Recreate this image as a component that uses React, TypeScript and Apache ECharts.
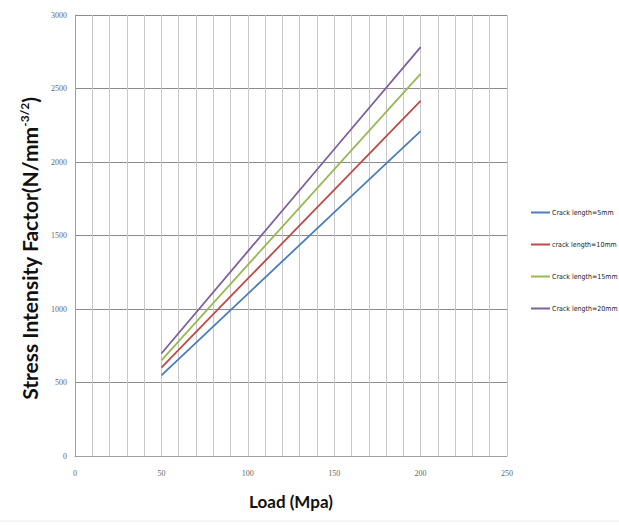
import React, { useEffect, useRef } from "react";
import * as echarts from "echarts";

const loads = [50, 100, 150, 200];
const seriesNames = [
  "Crack length=5mm",
  "crack length=10mm",
  "Crack length=15mm",
  "Crack length=20mm",
];
const crack5 = [548, 1103, 1657, 2210];
const crack10 = [602, 1206, 1810, 2415];
const crack15 = [650, 1300, 1950, 2600];
const crack20 = [697, 1392, 2087, 2782];
const colors = ["#4A7EBB", "#BE4B48", "#98B954", "#7D60A0"];
const xTicks = [0, 50, 100, 150, 200, 250];
const yTicks = [0, 500, 1000, 1500, 2000, 2500, 3000];

export default function App() {
  const ref = useRef<HTMLDivElement>(null);
  useEffect(() => {
    if (!ref.current) return;
    const chart = echarts.init(ref.current, null, { renderer: "svg" });
    const all = [crack5, crack10, crack15, crack20];
    chart.setOption({
      animation: false,
      backgroundColor: "#ffffff",
      grid: { left: 75, right: 112, top: 15, bottom: 69 },
      legend: {
        orient: "vertical",
        left: 526,
        top: 204,
        itemGap: 25,
        itemWidth: 19,
        itemHeight: 2,
        icon: "rect",
        data: seriesNames,
        textStyle: {
          fontFamily: "DejaVu Sans Condensed, sans-serif",
          fontStretch: "condensed",
          fontSize: 7,
          color: "#222",
          padding: [0, 0, 0, -3],
        },
      },
      xAxis: {
        type: "value",
        min: xTicks[0],
        max: xTicks[xTicks.length - 1],
        interval: 50,
        name: "Load (Mpa)",
        nameLocation: "middle",
        nameGap: 37,
        nameTextStyle: { fontFamily: "Lato", fontWeight: "bold", fontSize: 17, color: "#111" },
        axisLine: { show: true, lineStyle: { color: "#a0a0a0" } },
        axisTick: { show: false },
        axisLabel: { margin: 13, fontSize: 8, color: "#666", fontFamily: "Liberation Serif" },
        splitLine: { show: true, lineStyle: { color: "#c8c8c8", width: 1 } },
        minorTick: { show: false, splitNumber: 5 },
        minorSplitLine: { show: true, lineStyle: { color: "#c8c8c8", width: 1 } },
      },
      yAxis: {
        type: "value",
        min: yTicks[0],
        max: yTicks[yTicks.length - 1],
        interval: 500,
        name: "{a|Stress Intensity Factor(N/mm}{s|-3/2}{a|)}",
        nameLocation: "middle",
        nameGap: 31,
        nameRotate: 90,
        nameTextStyle: {
          padding: [0, 26, 0, 0],
          rich: {
            a: { fontFamily: "Lato", fontWeight: "bold", fontSize: 21, color: "#111" },
            s: { fontFamily: "Lato", fontWeight: "bold", fontSize: 12, color: "#111", verticalAlign: "top", padding: [0, 0, 10, 0] },
          },
        },
        axisLine: { show: true, lineStyle: { color: "#a0a0a0" } },
        axisTick: { show: false },
        axisLabel: {
          margin: 8,
          fontSize: 8,
          color: "#666",
          fontFamily: "Liberation Serif",
          formatter: (v: number) => String(v),
        },
        splitLine: { show: true, lineStyle: { color: "#8c8c8c", width: 1 } },
      },
      graphic: [
        {
          type: "line",
          shape: { x1: 0, y1: 521, x2: 619, y2: 521 },
          style: { stroke: "#ececec", lineWidth: 1 },
          silent: true,
        },
      ],
      series: seriesNames.map((name, i) => ({
        name,
        type: "line",
        data: loads.map((x, j) => [x, all[i][j]]),
        showSymbol: false,
        symbol: "none",
        lineStyle: { color: colors[i], width: 1.8 },
        itemStyle: { color: colors[i] },
      })),
    });
    return () => chart.dispose();
  }, []);
  return (
    <div
      ref={ref}
      style={{ position: "absolute", left: 0, top: 0, width: 619, height: 525 }}
    />
  );
}
